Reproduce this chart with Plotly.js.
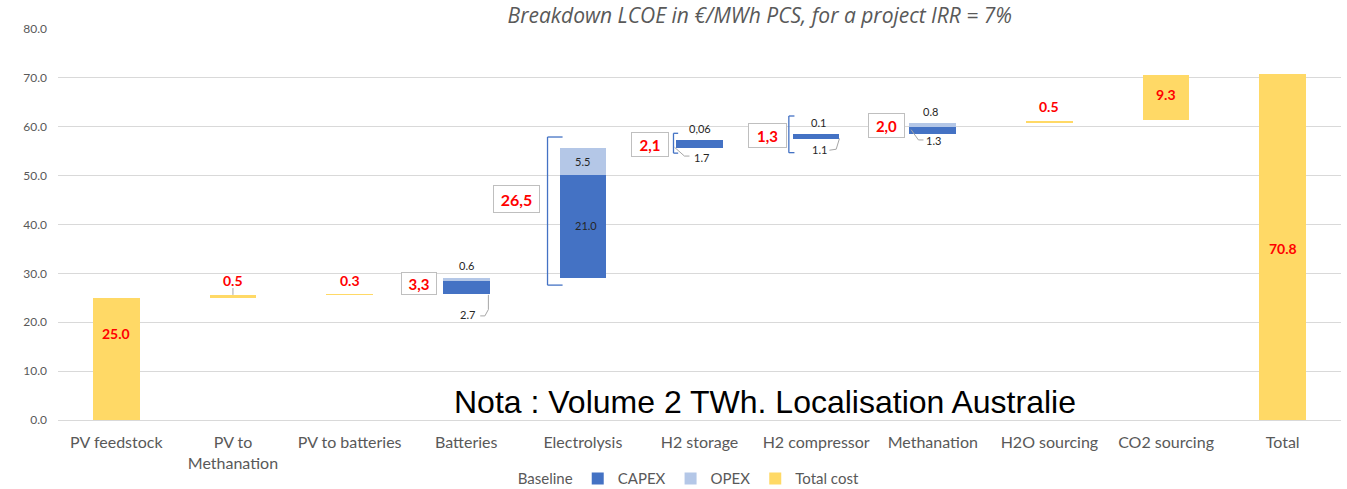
<!DOCTYPE html>
<html>
<head>
<meta charset="utf-8">
<script src="https://cdn.plot.ly/plotly-3.0.1.min.js"></script>
<style>html,body{margin:0;padding:0;background:#fff;}#chart{width:1347px;height:489px;}</style>
</head>
<body>
<div id="chart"></div>
<script>
// ---- data ----
var categories = ['PV feedstock', 'PV to<br>Methanation', 'PV to batteries', 'Batteries', 'Electrolysis',
  'H2 storage', 'H2 compressor', 'Methanation', 'H2O sourcing', 'CO2 sourcing', 'Total'];
var baseline  = [0, 25.0, 25.5, 25.8, 29.1, 55.6, 57.4, 58.6, 60.7, 61.3, 0];
var capex     = [null, null, null, 2.7, 21.0, 1.7, 1.1, 1.3, null, null, null];
var opex      = [null, null, null, 0.6, 5.5, 0.06, 0.1, 0.8, null, null, null];
var totalCost = [25.0, 0.5, 0.3, null, null, null, null, null, 0.5, 9.3, 70.8];
var capexText = [null, null, null, '2.7', '21.0', '1.7', '1.1', '1.3', null, null, null];
var opexText  = [null, null, null, '0.6', '5.5', '0,06', '0.1', '0.8', null, null, null];
var totalText = ['25.0', '0.5', '0.3', null, null, null, null, null, '0.5', '9.3', '70.8'];
var subtotalText = [null, null, null, '3,3', '26,5', '2,1', '1,3', '2,0', null, null, null];
var yTicks = [0, 10, 20, 30, 40, 50, 60, 70, 80];
var yTickText = ['0.0', '10.0', '20.0', '30.0', '40.0', '50.0', '60.0', '70.0', '80.0'];

var C_CAPEX = '#4472C4', C_OPEX = '#B4C7E7', C_TOTAL = '#FFD966';
var x = categories;
var bw = 0.4;

var traces = [
  {type: 'bar', name: 'Baseline', x: x, y: baseline, width: bw, marker: {color: 'rgba(0,0,0,0)'}, hoverinfo: 'skip'},
  {type: 'bar', name: 'CAPEX', x: x, y: capex, width: bw, marker: {color: C_CAPEX}, hoverinfo: 'skip'},
  {type: 'bar', name: 'OPEX', x: x, y: opex, width: bw, marker: {color: C_OPEX}, hoverinfo: 'skip'},
  {type: 'bar', name: 'Total cost', x: x, y: totalCost, width: bw, marker: {color: C_TOTAL}, hoverinfo: 'skip'}
];

var ann = [];
var shapes = [];
var FONT = 'Lato, "Open Sans", sans-serif';
function barTop(i) { return (baseline[i] || 0) + (capex[i] || 0) + (opex[i] || 0) + (totalCost[i] || 0); }

// red labels for total cost bars (layout positions)
var totalPos = {0: [0, 17.8], 1: [1, 28.6], 2: [2, 28.6], 8: [8, 64.2], 9: [9, 66.5], 10: [10, 35.0]};
totalText.forEach(function (t, i) {
  if (!t) return;
  var p = totalPos[i];
  ann.push({x: p[0], y: p[1], xref: 'x', yref: 'y', text: '<b>' + t + '</b>', showarrow: false,
    font: {family: FONT, size: 14, color: '#FF0000'}});
});

// boxed subtotal labels
var boxPos = {3: [-0.403, 28.0, 34, 21], 4: [-0.566, 45.3, 45, 26], 5: [-0.424, 56.3, 36, 23], 6: [-0.414, 58.2, 37, 23], 7: [-0.397, 60.3, 35, 23]};
subtotalText.forEach(function (t, i) {
  if (!t) return;
  var p = boxPos[i];
  ann.push({x: i + p[0], y: p[1], xref: 'x', yref: 'y', text: '<b>' + t + '</b>', showarrow: false,
    width: p[2], height: p[3], bgcolor: '#ffffff', bordercolor: '#BFBFBF', borderwidth: 1, borderpad: 0,
    font: {family: FONT, size: (i === 4 ? 16 : 15), color: '#FF0000'}});
});

// small capex / opex labels
var capexPos = {3: [0.01, 21.5], 4: [0.03, 39.7], 5: [0.02, 53.8], 6: [0.03, 55.4], 7: [0.01, 57.1]};
var opexPos = {3: [0, 31.7], 4: [0, 52.8], 5: [0, 59.7], 6: [0.02, 60.9], 7: [-0.02, 63.2]};
capexText.forEach(function (t, i) {
  if (!t) return;
  var p = capexPos[i];
  ann.push({x: i + p[0], y: p[1], xref: 'x', yref: 'y', text: t, showarrow: false,
    font: {family: FONT, size: 11, color: '#262626'}});
});
opexText.forEach(function (t, i) {
  if (!t) return;
  var p = opexPos[i];
  ann.push({x: i + p[0], y: p[1], xref: 'x', yref: 'y', text: t, showarrow: false,
    font: {family: FONT, size: 11, color: '#262626'}});
});

// note text
ann.push({x: 0.551, y: 3.7, xref: 'paper', yref: 'y', text: 'Nota : Volume 2 TWh. Localisation Australie',
  showarrow: false, font: {family: '"Liberation Sans", Arial, sans-serif', size: 32, color: '#000000'}});

// brackets (blue)
function bracket(i, xo, xs, y0, y1) {
  var st = {color: C_CAPEX, width: 1.3};
  shapes.push({type: 'line', xref: 'x', yref: 'y', x0: i + xo, x1: i + xo, y0: y0, y1: y1, line: st});
  shapes.push({type: 'line', xref: 'x', yref: 'y', x0: i + xo, x1: i + xs, y0: y0, y1: y0, line: st});
  shapes.push({type: 'line', xref: 'x', yref: 'y', x0: i + xo, x1: i + xs, y0: y1, y1: y1, line: st});
}
bracket(4, -0.303, -0.174, baseline[4] - 1.5, barTop(4) + 2.3);
bracket(5, -0.223, -0.183, baseline[5] - 1.0, barTop(5) + 1.3);
bracket(6, -0.234, -0.186, baseline[6] - 2.7, barTop(6) + 3.6);

// leader lines (gray)
function seg(x0, y0, x1, y1) {
  shapes.push({type: 'line', xref: 'x', yref: 'y', x0: x0, y0: y0, x1: x1, y1: y1, line: {color: '#A6A6A6', width: 1}});
}
seg(1, 27.0, 1, 25.6);
seg(3.12, 21.3, 3.16, 21.3); seg(3.16, 21.3, 3.19, 22.6); seg(3.19, 22.6, 3.19, 25.6);
seg(5 - 0.214, 55.8, 5 - 0.129, 54.0); seg(5 - 0.129, 54.0, 5 - 0.086, 54.0);
seg(6.114, 55.2, 6.172, 55.4); seg(6.172, 55.4, 6.2, 57.6);
seg(7 - 0.186, 59.4, 7 - 0.123, 57.3); seg(7 - 0.123, 57.3, 7 - 0.08, 57.3);

var layout = {
  width: 1347, height: 489,
  margin: {l: 58, r: 6, t: 29, b: 69},
  paper_bgcolor: '#ffffff', plot_bgcolor: '#ffffff',
  barmode: 'stack',
  showlegend: true,
  title: {text: '<i>Breakdown LCOE in €/MWh PCS, for a project IRR = 7%</i>', x: 0.547, xref: 'paper', xanchor: 'center',
    y: 0.969, yref: 'container', yanchor: 'middle',
    font: {family: '"Open Sans", sans-serif', size: 21, color: '#595959'}},
  xaxis: {type: 'category', categoryorder: 'array', categoryarray: categories, tickfont: {family: FONT, size: 16, color: '#595959'},
    showgrid: false, showline: true, linecolor: '#D9D9D9', linewidth: 1, ticks: '', ticklabelstandoff: 8,
    range: [-0.5, 10.5], fixedrange: true},
  yaxis: {range: [0, 80], tickvals: yTicks, ticktext: yTickText, tickfont: {family: FONT, size: 12, color: '#595959'},
    showgrid: true, gridcolor: '#D9D9D9', gridwidth: 1, zeroline: false, showline: false, ticks: '', ticklabelstandoff: 10, fixedrange: true},
  legend: {orientation: 'h', x: 0.478, xanchor: 'center', y: 0.021, yref: 'container', yanchor: 'middle',
    font: {family: FONT, size: 15, color: '#595959'}, itemwidth: 30, traceorder: 'normal'},
  annotations: ann,
  shapes: shapes
};

Plotly.newPlot('chart', traces, layout, {displayModeBar: false, staticPlot: true});
</script>
</body>
</html>
